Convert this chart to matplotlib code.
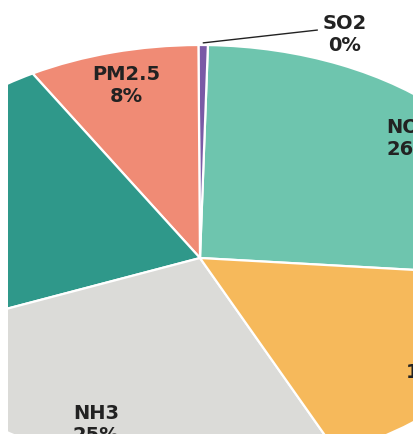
import matplotlib
matplotlib.use("Agg")
import matplotlib.pyplot as plt
import numpy as np

# Emission shares by pollutant (%), counter-clockwise from the NOx wedge
pollutants = ["NOX", "SO2", "PM2.5", "VOC", "NH3", "CO"]
shares = [26.0, 0.45, 8.25, 22.9, 25.45, 16.9]
colors = ["#6ec5ae", "#7a5aa6", "#f08b75", "#2f988a", "#dbdbd8", "#f6b95b"]

fig = plt.figure(figsize=(4.14, 4.34), dpi=100)
# the pie is stretched sideways and cut off by the figure edges
ax = fig.add_axes([8 / 414, 0, 406 / 414, 1])

labels = [f"{p}\n{v:.0f}%" if p != "SO2" else "" for p, v in zip(pollutants, shares)]

txt_style = dict(fontsize=14, fontweight="bold", color="#222222", linespacing=1.2)

wedges, texts = ax.pie(
    shares, colors=colors, labels=labels, startangle=-5, counterclock=True,
    labeldistance=0.84, radius=1.0,
    wedgeprops=dict(edgecolor="white", linewidth=1.6),
    textprops=txt_style,
)
for w in wedges:
    w.set_clip_on(True)
for t in texts:
    t.set_horizontalalignment("center")
    t.set_verticalalignment("center")
    t.set_multialignment("center")
    t.set_clip_on(True)

# small SO2 slice gets an outside label with a leader line
i = pollutants.index("SO2")
w = wedges[i]
mid = np.deg2rad((w.theta1 + w.theta2) / 2)
ax.annotate(
    f"SO2\n{shares[i]:.0f}%", xy=(np.cos(mid) * 1.01, np.sin(mid) * 1.01),
    xytext=(0.433, 1.05), ha="center", va="center", **txt_style,
    arrowprops=dict(arrowstyle="-", color="#222222", lw=1.0,
                    relpos=(0.0, 0.62), shrinkA=2, shrinkB=0),
)

ax.set_aspect("auto")
ax.set_xlim(-192 / 335, 214 / 335)
ax.set_ylim(-176 / 213, 258 / 213)
ax.axis("off")

fig.savefig("out.png", dpi=100, facecolor="white")
